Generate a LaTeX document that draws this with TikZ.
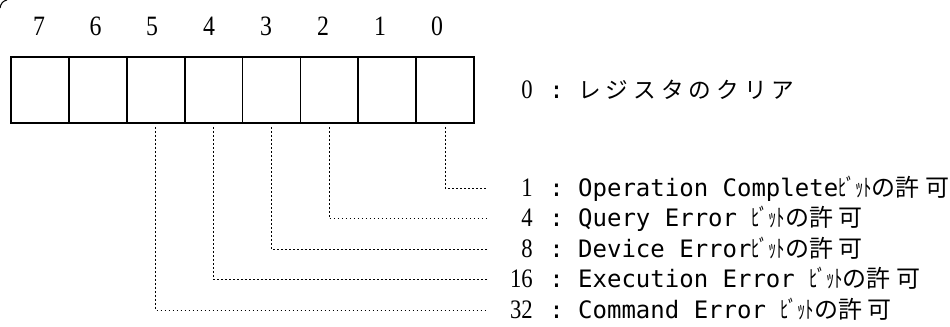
\documentclass[tikz,border=0pt]{standalone}
\usepackage{fontspec}
\setmonofont{DejaVu Sans Mono}
\newfontfamily\jpfont{Noto Sans CJK JP}
\newfontfamily\numfont{Liberation Serif}
\usetikzlibrary{positioning}

\newcommand{\bitallow}{{\jpfont\scalebox{0.7}[1]{ﾋﾞｯﾄ}の許\hspace{4pt}可}}
\newcommand{\slim}[1]{\scalebox{0.85}[1]{#1}}

\begin{document}
\begin{tikzpicture}[x=0.75pt, y=-0.75pt,
  cell/.style={draw, line width=1.3pt, minimum width=43.4pt, minimum height=49.5pt, inner sep=0pt, outer sep=0pt},
  bitno/.style={anchor=base, inner sep=0pt, font=\fontsize{21}{21}\numfont},
  num/.style={anchor=base east, inner sep=0pt, font=\fontsize{20}{20}\numfont},
  desc/.style={anchor=base west, inner sep=0pt, font=\fontsize{18}{18}\ttfamily},
  link/.style={line width=0.7pt, dash pattern=on 1.2pt off 1.8pt}]
\useasboundingbox (0,0) rectangle (950,327);

% stray stroke at the top left corner
\draw[line width=0.8pt] (0,8) .. controls (1,3) and (3,1) .. (7,0);

% Register: bit cells 7 ... 0
\node[cell] (b7) at (40,90) {};
\node[cell, right=0pt of b7] (b6) {};
\node[cell, right=0pt of b6] (b5) {};
\node[cell, right=0pt of b5] (b4) {};
\node[cell, right=0pt of b4] (b3) {};
\node[cell, right=0pt of b3] (b2) {};
\node[cell, right=0pt of b2] (b1) {};
\node[cell, right=0pt of b1] (b0) {};

% Bit numbers above the cells
\node[bitno] (d7) at (39,36) {\slim{7}};
\node[bitno] (d6) at (95.5,36) {\slim{6}};
\node[bitno] (d5) at (152,36) {\slim{5}};
\node[bitno] (d4) at (209,36) {\slim{4}};
\node[bitno] (d3) at (266,36) {\slim{3}};
\node[bitno] (d2) at (323,36) {\slim{2}};
\node[bitno] (d1) at (380,36) {\slim{1}};
\node[bitno] (d0) at (437,36) {\slim{0}};

% Value 0: clear
\node[num] (n0) at (533,98.5) {\slim{0}};
\node[desc] (t0) at (549,98.5) {: {\jpfont\fontsize{17}{17}\selectfont\addfontfeature{LetterSpace=22}レジスタのクリア}};

% Enable bits with their values
\node[num] (n1) at (533,196.5) {\slim{1}};
\node[desc] (t1) at (549,196.5) {: Operation Complete\bitallow};
\node[num] (n4) at (533,227) {\slim{4}};
\node[desc] (t4) at (549,227) {: Query Error \bitallow};
\node[num] (n8) at (533,257.5) {\slim{8}};
\node[desc] (t8) at (549,257.5) {: Device Error\bitallow};
\node[num] (n16) at (533,288) {\slim{16}};
\node[desc] (t16) at (549,288) {: Execution Error \bitallow};
\node[num] (n32) at (533,318.5) {\slim{32}};
\node[desc] (t32) at (549,318.5) {: Command Error \bitallow};

% Ends of the leader lines
\coordinate (e1) at (487,188);
\coordinate (e4) at (487,218.5);
\coordinate (e8) at (487,249);
\coordinate (e16) at (487,279.5);
\coordinate (e32) at (487,310);

% Leader lines from the cells
\draw[link] ([yshift=-3pt]b0.south) |- (e1);
\draw[link] ([yshift=-3pt]b2.south) |- (e4);
\draw[link] ([yshift=-3pt]b3.south) |- (e8);
\draw[link] ([yshift=-3pt]b4.south) |- (e16);
\draw[link] ([yshift=-3pt]b5.south) |- (e32);
\end{tikzpicture}
\end{document}
